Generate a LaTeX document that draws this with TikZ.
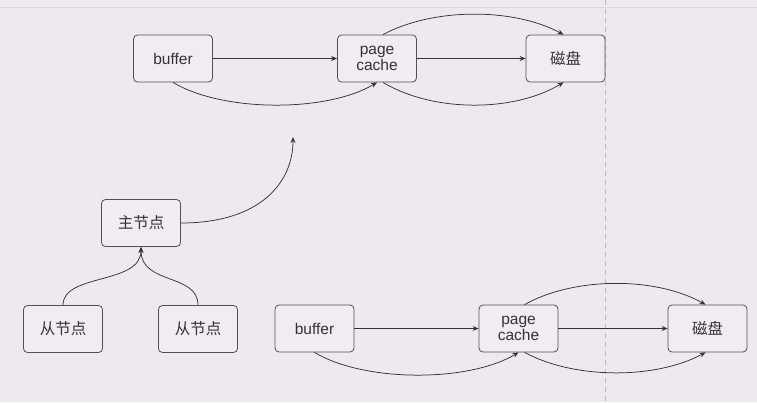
\documentclass[tikz,border=0pt]{standalone}
\usepackage{fontspec}
\setmainfont{Liberation Sans}
\newfontfamily\cjk{Noto Sans CJK SC}
\usetikzlibrary{arrows.meta,calc}
\definecolor{bgc}{HTML}{ECEAED}
\definecolor{boxfill}{HTML}{EFEDF0}
\definecolor{edgec}{HTML}{505055}
\definecolor{linec}{HTML}{333336}
\definecolor{txtc}{HTML}{333333}
\definecolor{guide}{HTML}{BDBBC0}
\definecolor{topline}{HTML}{DAD8DC}
\begin{document}
\begin{tikzpicture}[x=1pt,y=-1pt,
  boxnode/.style={draw=edgec,fill=boxfill,rounded corners=4pt,line width=0.8pt,
    minimum width=79pt,minimum height=47pt,inner sep=0pt,text=txtc,
    font=\fontsize{15.5}{16}\selectfont,align=center},
  conn/.style={draw=linec,line width=0.75pt,-{Stealth[length=6pt,width=5pt]}}]
\useasboundingbox (0,0) rectangle (757,402);
\fill[bgc] (0,0) rectangle (757,402);
\draw[topline,line width=0.8pt] (0,7) -- (757,7);
\draw[guide,line width=0.8pt,dash pattern=on 5pt off 4pt] (605,0) -- (605,402);

% top row
\node[boxnode] (b1) at (173,58.5) {buffer};
\node[boxnode] (p1) at (377,58.5) {page\\cache};
\node[boxnode] (d1) at (565.5,58.5) {\cjk 磁盘};
\draw[conn] (b1.east) -- (p1.west);
\draw[conn] (p1.east) -- (d1.west);
\draw[conn] (b1.south) .. controls +(50,30) and +(-50,30) .. (p1.south);
\draw[conn] ([xshift=6pt]p1.south) .. controls +(50,30) and +(-50,30) .. ([xshift=-2pt]d1.south);
\draw[conn] ([xshift=6pt]p1.north) .. controls +(50,-27) and +(-50,-27) .. ([xshift=-2pt]d1.north);

% middle
\node[boxnode] (m) at (141,223) {\cjk 主节点};
\coordinate (up) at (293,137);
\draw[conn] (m.east) .. controls +(80,0) and +(0,45) .. (up);

\node[boxnode] (s1) at (63,329) {\cjk 从节点};
\node[boxnode] (s2) at (198,329) {\cjk 从节点};
\draw[conn] (s1.north) .. controls +(0,-32) and +(0,38) .. (m.south);
\draw[conn] (s2.north) .. controls +(0,-32) and +(0,38) .. (m.south);

% bottom row
\node[boxnode] (b2) at (314.5,328.5) {buffer};
\node[boxnode] (p2) at (518.5,328.5) {page\\cache};
\node[boxnode] (d2) at (707.5,328.5) {\cjk 磁盘};
\draw[conn] (b2.east) -- (p2.west);
\draw[conn] (p2.east) -- (d2.west);
\draw[conn] (b2.south) .. controls +(50,30) and +(-50,30) .. (p2.south);
\draw[conn] ([xshift=6pt]p2.south) .. controls +(50,27) and +(-50,27) .. ([xshift=-2pt]d2.south);
\draw[conn] ([xshift=6pt]p2.north) .. controls +(50,-28) and +(-50,-28) .. ([xshift=-2pt]d2.north);
\end{tikzpicture}
\end{document}
